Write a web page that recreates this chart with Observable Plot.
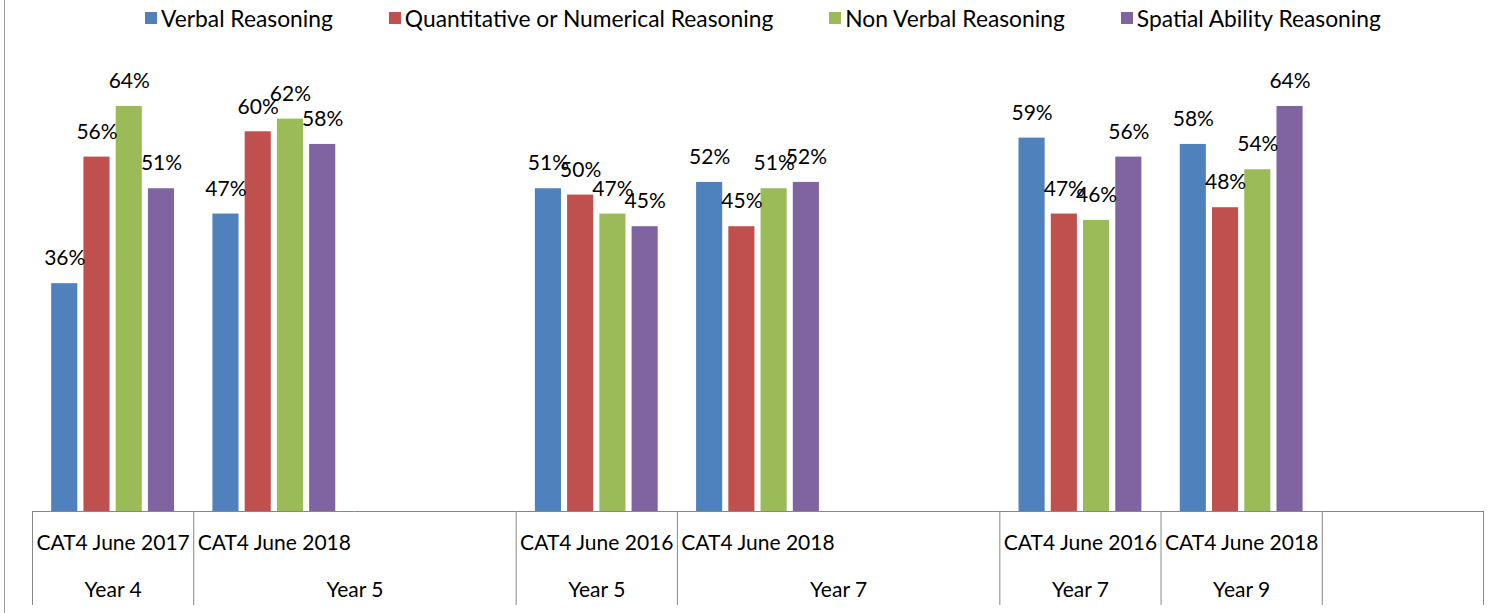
<!DOCTYPE html>
<html><head><meta charset="utf-8">
<script src="https://cdn.jsdelivr.net/npm/d3@7"></script>
<script src="https://cdn.jsdelivr.net/npm/@observablehq/plot@0.6"></script>
<style>
html,body{margin:0;padding:0;background:#fff;}
body{width:1497px;height:613px;position:relative;overflow:hidden;font-family:Lato,"Open Sans",sans-serif;}
#frame{position:absolute;left:4px;top:0;bottom:0;width:1px;background:#9a9a9a;}
#legend{height:36px;display:flex;align-items:center;padding-left:145px;box-sizing:border-box;font-size:22.8px;color:#000;white-space:nowrap;}
.item{display:flex;align-items:center;margin-right:56px;}
.sw{width:12px;height:12px;margin-right:4px;flex:none;}
#chart svg{display:block;}
</style></head><body>
<div id="frame"></div>
<div id="legend"></div>
<div id="chart"></div>
<script>
// ---- data ----
const series = ["Verbal Reasoning", "Quantitative or Numerical Reasoning", "Non Verbal Reasoning", "Spatial Ability Reasoning"];
const colors = ["#4F81BD", "#C0504D", "#9BBB59", "#8064A2"];
const tests = ["CAT4 June 2017", "CAT4 June 2018", "", "CAT4 June 2016", "CAT4 June 2018", "", "CAT4 June 2016", "CAT4 June 2018", ""];
const verbal    = [36, 47, null, 51, 52, null, 59, 58, null];
const quant     = [56, 60, null, 50, 45, null, 47, 48, null];
const nonVerbal = [64, 62, null, 47, 51, null, 46, 54, null];
const spatial   = [51, 58, null, 45, 52, null, 56, 64, null];
const yearLabels = ["Year 4", "Year 5", "Year 5", "Year 7", "Year 7", "Year 9", ""];
const yearFirstSlot = [0, 1, 3, 4, 6, 7, 8];
const yearSpan = [1, 2, 1, 2, 1, 1, 1];

// ---- tables built from the arrays ----
const slotIds = tests.map((_, i) => i);
const valuesBySeries = [verbal, quant, nonVerbal, spatial];
const rows = [];
slotIds.forEach(i => series.forEach((s, k) => {
  const v = valuesBySeries[k][i];
  if (v != null) rows.push({slot: i, series: s, value: v});
}));
const slotRows = slotIds.map(i => ({slot: i, test: tests[i]}));
const yearRows = yearLabels.map((label, g) => ({slot: yearFirstSlot[g], label, span: yearSpan[g], edge: "R"}));
// group boundaries: left edge of first slot, right edge of each group's last slot
const edges = [{slot: 0, side: "L"}].concat(yearRows.map(r => ({slot: r.slot + r.span - 1, side: "R"})));

// ---- legend ----
const legend = document.getElementById("legend");
series.forEach((s, k) => {
  const it = document.createElement("div"); it.className = "item";
  const sw = document.createElement("span"); sw.className = "sw"; sw.style.background = colors[k];
  const tx = document.createElement("span"); tx.textContent = s;
  it.append(sw, tx); legend.append(it);
});

// ---- chart ----
const axisGray = "#878787";
const chart = Plot.plot({
  width: 1497, height: 577,
  marginLeft: 32, marginRight: 14, marginTop: 32, marginBottom: 102,
  style: {fontFamily: "Lato, 'Open Sans', sans-serif", fontSize: "20px", color: "#000", background: "transparent", overflow: "visible"},
  fx: {domain: slotIds, padding: 0, round: false, axis: null, label: null},
  x: {domain: ["L", ...series, "R"], paddingInner: 0.19, paddingOuter: -0.405, round: false, axis: null, label: null},
  y: {domain: [0, 70], axis: null},
  color: {domain: series, range: colors},
  marks: [
    Plot.ruleY(slotRows, {fx: "slot", y: () => 0, stroke: axisGray}),
    Plot.ruleX(edges, {fx: "slot", x: "side", y1: () => 0, insetBottom: -94, stroke: axisGray}),
    Plot.barY(rows, {fx: "slot", x: "series", y: "value", fill: "series"}),
    Plot.text(rows, {fx: "slot", x: "series", y: "value", text: d => d.value + "%", dy: -25, fontSize: 21, fill: "#000"}),
    Plot.text(slotRows, {fx: "slot", text: "test", frameAnchor: "bottom", dy: 38, fontSize: 21, fill: "#000"}),
    Plot.text(yearRows.filter(r => r.span === 1), {fx: "slot", text: "label", frameAnchor: "bottom", dy: 85, fontSize: 21, fill: "#000"}),
    Plot.text(yearRows.filter(r => r.span === 2), {fx: "slot", x: "edge", text: "label", frameAnchor: "bottom", dy: 85, fontSize: 21, fill: "#000"})
  ]
});
document.getElementById("chart").append(chart);
</script>
</body></html>
